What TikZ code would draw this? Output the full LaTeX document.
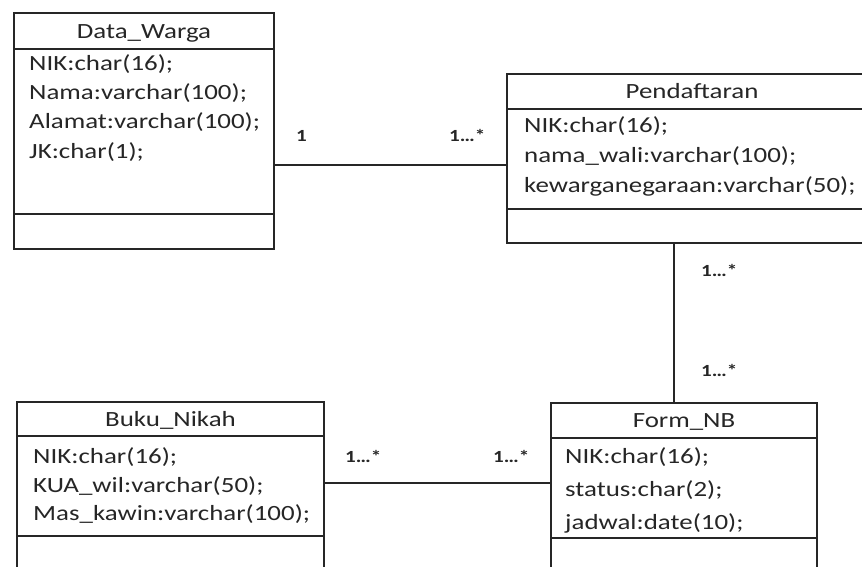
\documentclass[tikz,border=0pt]{standalone}
\usepackage{fontspec}
\setmainfont{Carlito}[FakeStretch=1.24]
\definecolor{ink}{RGB}{38,38,38}
\begin{document}
\begin{tikzpicture}[x=1pt,y=-1pt,
  part/.style={draw=ink,line width=1.4pt,rectangle,inner sep=0pt,outer sep=0pt,anchor=north west},
  title/.style={inner sep=0pt,anchor=base,text=ink,font=\fontsize{21.7}{29}\selectfont},
  attr/.style={inner sep=0pt,anchor=base west,text=ink,font=\fontsize{21.7}{29}\selectfont},
  mult/.style={inner sep=0pt,anchor=base west,text=ink,font=\fontsize{17}{17}\selectfont\bfseries},
  conn/.style={draw=ink,line width=1.4pt}]
\useasboundingbox (0,0) rectangle (862,567);
\clip (0,0) rectangle (862,567);
\fill[white] (0,0) rectangle (862,567);

% Data_Warga
\node[part,minimum width=260pt,minimum height=36pt] (dwT) at (14,13) {};
\node[part,minimum width=260pt,minimum height=165pt] (dwA) at (dwT.south west) {};
\node[part,minimum width=260pt,minimum height=35pt] (dwM) at (dwA.south west) {};
\node[title] (dwN) at (144,38.5) {Data\_Warga};
\node[attr] (dw1) at (29,71) {NIK:char(16);};
\node[attr] (dw2) at (29,100) {Nama:varchar(100);};
\node[attr] (dw3) at (29,129) {Alamat:varchar(100);};
\node[attr] (dw4) at (29,158) {JK:char(1);};

% Pendaftaran
\node[part,minimum width=370pt,minimum height=35pt] (pdT) at (507,74) {};
\node[part,minimum width=370pt,minimum height=100pt] (pdA) at (pdT.south west) {};
\node[part,minimum width=370pt,minimum height=34pt] (pdM) at (pdA.south west) {};
\node[title] (pdN) at (692,99) {Pendaftaran};
\node[attr] (pd1) at (524,133) {NIK:char(16);};
\node[attr] (pd2) at (524,163) {nama\_wali:varchar(100);};
\node[attr] (pd3) at (524,192) {kewarganegaraan:varchar(50);};

% Buku_Nikah
\node[part,minimum width=307pt,minimum height=34pt] (bnT) at (17,402) {};
\node[part,minimum width=307pt,minimum height=100pt] (bnA) at (bnT.south west) {};
\node[part,minimum width=307pt,minimum height=60pt] (bnM) at (bnA.south west) {};
\node[title] (bnN) at (170.5,426) {Buku\_Nikah};
\node[attr] (bn1) at (33,463) {NIK:char(16);};
\node[attr] (bn2) at (33,492) {KUA\_wil:varchar(50);};
\node[attr] (bn3) at (33,520) {Mas\_kawin:varchar(100);};

% Form_NB
\node[part,minimum width=266pt,minimum height=35pt] (fmT) at (551,403) {};
\node[part,minimum width=266pt,minimum height=100pt] (fmA) at (fmT.south west) {};
\node[part,minimum width=266pt,minimum height=60pt] (fmM) at (fmA.south west) {};
\node[title] (fmN) at (684,427) {Form\_NB};
\node[attr] (fm1) at (565,463) {NIK:char(16);};
\node[attr] (fm2) at (565,496) {status:char(2);};
\node[attr] (fm3) at (565,529) {jadwal:date(10);};

% connectors
\coordinate (h1) at (0,165);
\coordinate (h2) at (0,483);
\coordinate (v1) at (674,0);
\draw[conn] (dwA.east |- h1) -- (pdA.west |- h1);
\draw[conn] (pdM.south -| v1) -- (fmT.north -| v1);
\draw[conn] (bnA.east |- h2) -- (fmA.west |- h2);

% multiplicities
\node[mult] (m1) at (296,142) {1};
\node[mult] (m2) at (449,142) {1…*};
\node[mult] (m3) at (701,276) {1…*};
\node[mult] (m4) at (701,376) {1…*};
\node[mult] (m5) at (345,462) {1…*};
\node[mult] (m6) at (493,462) {1…*};
\end{tikzpicture}
\end{document}
